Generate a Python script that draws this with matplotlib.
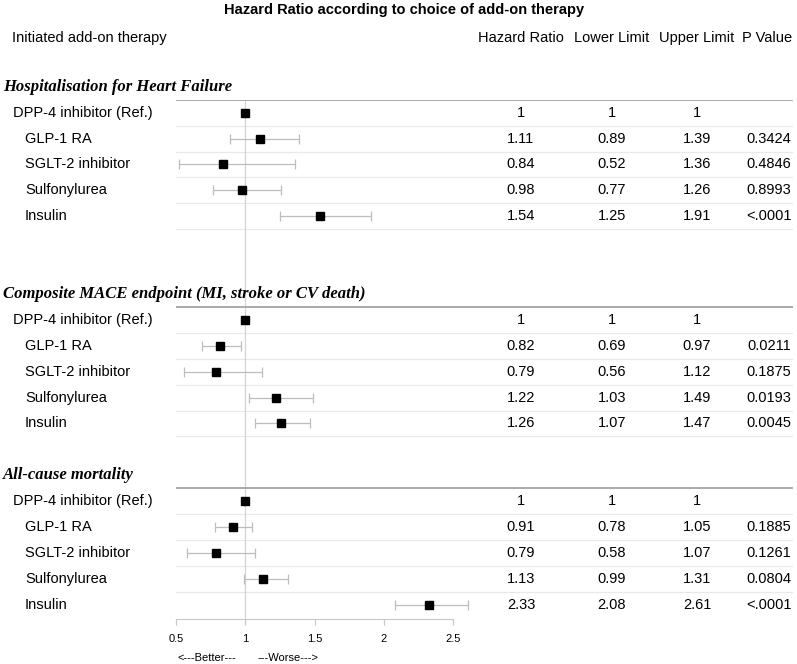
import matplotlib
matplotlib.use("Agg")
import matplotlib.pyplot as plt
from matplotlib.transforms import blended_transform_factory
import numpy as np

plt.rcParams['font.family'] = ['Liberation Sans', 'DejaVu Sans']

# data
therapies = ["DPP-4 inhibitor (Ref.)", "GLP-1 RA", "SGLT-2 inhibitor", "Sulfonylurea", "Insulin"]
sections = ["Hospitalisation for Heart Failure",
            "Composite MACE endpoint (MI, stroke or CV death)",
            "All-cause mortality"]
section_start = [0, 8, 15]   # row index of first therapy in each block

hf_hr = [1, 1.11, 0.84, 0.98, 1.54]
hf_lo = [1, 0.89, 0.52, 0.77, 1.25]
hf_hi = [1, 1.39, 1.36, 1.26, 1.91]
hf_p = ["", "0.3424", "0.4846", "0.8993", "<.0001"]

mace_hr = [1, 0.82, 0.79, 1.22, 1.26]
mace_lo = [1, 0.69, 0.56, 1.03, 1.07]
mace_hi = [1, 0.97, 1.12, 1.49, 1.47]
mace_p = ["", "0.0211", "0.1875", "0.0193", "0.0045"]

acm_hr = [1, 0.91, 0.79, 1.13, 2.33]
acm_lo = [1, 0.78, 0.58, 0.99, 2.08]
acm_hi = [1, 1.05, 1.07, 1.31, 2.61]
acm_p = ["", "0.1885", "0.1261", "0.0804", "<.0001"]

blocks = [(hf_hr, hf_lo, hf_hi, hf_p),
          (mace_hr, mace_lo, mace_hi, mace_p),
          (acm_hr, acm_lo, acm_hi, acm_p)]

col_heads = ["Hazard Ratio", "Lower Limit", "Upper Limit", "P Value"]
xticks = [0.5, 1, 1.5, 2, 2.5]
xticklabels = ["0.5", "1", "1.5", "2", "2.5"]

W, H = 797, 664
fig = plt.figure(figsize=(W / 100, H / 100), dpi=100)
px_per_unit = 138.5
ax = fig.add_axes([176 / W, 1 - 619 / H, (793 - 176) / W, (619 - 99.75) / H])
ax.set_xlim(0.5, 0.5 + (793 - 176) / px_per_unit)
ax.set_ylim(19.55, -0.5)

tr = blended_transform_factory(fig.transFigure, ax.transData)
col_x = [521 / W, 612 / W, 697 / W, 769 / W]


def fmt(v):
    return "1" if v == 1 else "%.2f" % v


ax.axvline(1, color="#d4d4d4", lw=0.9, zorder=1)

for b, (name, start, (hr, lo, hi, p)) in enumerate(zip(sections, section_start, blocks)):
    y = np.arange(len(hr)) + start
    hr, lo, hi = np.array(hr), np.array(lo), np.array(hi)

    ax.text(3 / W, start - 1, name, transform=tr, ha="left", va="center",
            family="Liberation Serif", fontstyle="italic", fontweight="bold",
            fontsize=12, clip_on=False)
    ax.axhline(start - 0.5, color="#a3a3a3", lw=1.3, zorder=1)
    for i, r in enumerate(y):
        if not (b == len(sections) - 1 and i == len(y) - 1):
            ax.axhline(r + 0.5, color="#e9e9e9", lw=0.9, zorder=0)

    ax.errorbar(hr[1:], y[1:], xerr=[hr[1:] - lo[1:], hi[1:] - hr[1:]], fmt="none",
                ecolor="#bdbdbd", elinewidth=0.9, capsize=3.4, capthick=0.9,
                zorder=2, clip_on=False)
    ax.plot(hr, y, "s", color="black", ms=5.5, zorder=3, clip_on=False)

    for i, r in enumerate(y):
        ax.text(12.7 / W if i == 0 else 25 / W, r, therapies[i], transform=tr,
                ha="left", va="center", fontsize=10.5)
        vals = [fmt(hr[i]), fmt(lo[i]), fmt(hi[i]), p[i]]
        for cx, v in zip(col_x, vals):
            ax.text(cx, r, v, transform=tr, ha="center", va="center", fontsize=10.5)

# headers
ax.text(404 / W, -3.97, "Hazard Ratio according to choice of add-on therapy", transform=tr,
        ha="center", va="center", fontsize=10.5, fontweight="bold", clip_on=False)
ax.text(12 / W, -2.88, "Initiated add-on therapy", transform=tr, ha="left", va="center",
        fontsize=10.5, clip_on=False)
for cx, h in zip(col_x, col_heads):
    ax.text(cx if h != "P Value" else 767 / W, -2.88, h, transform=tr, ha="center",
            va="center", fontsize=10.5, clip_on=False)

# axis
for s in ["top", "left", "right"]:
    ax.spines[s].set_visible(False)
ax.spines["bottom"].set_bounds(0.5, 2.5)
ax.spines["bottom"].set_color("#c8c8c8")
ax.set_yticks([])
ax.set_xticks(xticks)
ax.set_xticklabels(xticklabels)
ax.tick_params(axis="x", direction="out", length=4, width=0.9, color="#c8c8c8",
               labelsize=8, pad=7)

ax.text(177 / W, 21.05, "<---Better---", transform=tr, ha="left", va="center",
        fontsize=8, clip_on=False)
ax.text(257 / W, 21.05, "---Worse--->", transform=tr, ha="left", va="center",
        fontsize=8, clip_on=False)

fig.savefig("out.png", dpi=100)
